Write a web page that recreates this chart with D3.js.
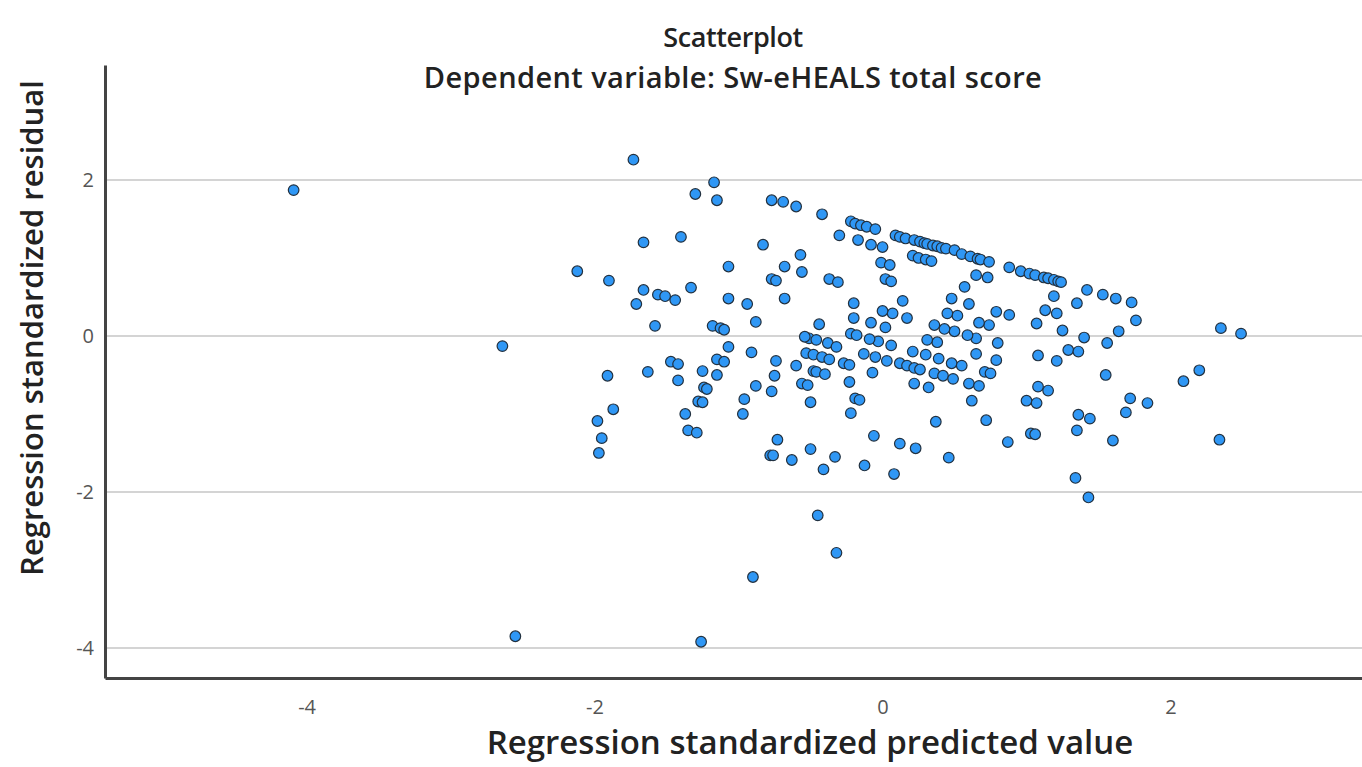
<html>
<head>
<meta charset="utf-8">
<script src="https://d3js.org/d3.v7.min.js"></script>
<style>
    body, html { margin: 0; padding: 0; background: #fff; }
    text { font-family: "Open Sans", "Noto Sans", sans-serif; }
</style>
</head>
<body>
<div id="chart"></div>
<script>
// regression standardized predicted value (x) and residual (y)
var predicted = [
  -4.09, -2.64, -2.55, -1.26, -0.90, -0.45, -0.32, 1.43, 1.34,
  -1.73, -1.17, -1.30, -1.15, -0.77, -0.69, -1.66, -1.40, -0.83, -2.12, -1.90,
  -1.66, -1.56, -1.51, -1.44, -1.71, -1.33, -1.07, -0.68, -0.77, -0.74,
  -1.07, -0.94, -0.68, -1.58, -1.18, -1.125, -1.10, -0.88, -1.07, -0.91,
  -1.47, -1.42, -1.15, -1.10, -0.74, -1.91, -1.63, -1.42, -1.25, -1.15,
  -0.75, -1.24, -1.22, -0.88, -0.77, -1.87, -1.98, -1.95, -1.97, -0.96,
  -0.97, -1.37, -1.28, -1.25, -1.35, -1.29, -0.73, -0.78, -0.76,
  -0.63, -0.50, -0.41, -0.33, -0.125, -0.06, 0.08, 0.12, 0.23, 0.37, 0.46, 0.72,
  -0.50, -0.22, -0.19, -0.16, -0.23, -0.56, -0.52, -0.60, -0.48, -0.46, -0.40,
  -0.53, -0.48, -0.42, -0.37, -0.27, -0.23, -0.13, -0.05, -0.07, 0.03, 0.12,
  0.17, 0.22, 0.26, 0.21, 0.22, 0.32, 0.30, 0.39, 0.48, 0.55, 0.36, 0.42,
  0.49, 0.60, 0.67, 0.62, 0.65, 0.71, 0.75, 0.79,
  0.87, 1.03, 1.06, 1.35, 1.36, 1.44, 1.60, 1.69, 1.72, 1.84, 2.09, 2.20, 2.34,
  1.00, 1.07, 1.08, 1.15, 1.55, 1.08, 1.21, 1.29, 1.36,
  2.35, 2.49, 1.76, 1.73, 1.62, 1.53, 1.42, 1.64, 1.56, 1.40, 1.35, 1.25,
  1.19, 1.13, 1.21, 1.07, 0.88, 0.79, 0.74, 0.67, 0.80, 0.65, 0.59, 0.52,
  0.45, 0.60, 0.48, 0.57, 0.50, 0.43, 0.36, 0.38, 0.31, 0.14, 0.17, 0.07,
  0.00, 0.02, -0.08, 0.06, -0.03, -0.09, -0.20, -0.20, -0.22, -0.18, -0.44,
  -0.51, -0.46, -0.38, -0.32, -0.54,
  -0.60, -0.42, -0.22, -0.19, -0.15, -0.11, -0.05, -0.30, -0.17, -0.08, 0.00,
  0.09, 0.12, 0.16, 0.22, 0.26, 0.29, 0.31, 0.35, 0.38, 0.41, 0.44, 0.50,
  0.55, 0.61, 0.66, 0.68, 0.74,
  0.21, 0.25, 0.30, 0.34, -0.57, -0.56, -0.37, -0.31, -0.01, 0.05, 0.02, 0.06,
  0.65, 0.73,
  0.88, 0.96, 1.02, 1.06, 1.12, 1.15, 1.19, 1.22, 1.24
];
var residual = [
  1.87, -0.13, -3.85, -3.92, -3.09, -2.30, -2.78, -2.07, -1.82,
  2.26, 1.97, 1.82, 1.74, 1.74, 1.72, 1.20, 1.27, 1.17, 0.83, 0.71,
  0.59, 0.53, 0.51, 0.46, 0.41, 0.62, 0.89, 0.89, 0.73, 0.71,
  0.48, 0.41, 0.48, 0.13, 0.13, 0.10, 0.08, 0.18, -0.14, -0.21,
  -0.33, -0.36, -0.30, -0.33, -0.32, -0.51, -0.46, -0.57, -0.45, -0.50,
  -0.51, -0.66, -0.68, -0.64, -0.71, -0.94, -1.09, -1.31, -1.50, -0.81,
  -1.00, -1.00, -0.84, -0.85, -1.21, -1.24, -1.33, -1.53, -1.53,
  -1.59, -1.45, -1.71, -1.55, -1.66, -1.28, -1.77, -1.38, -1.44, -1.10, -1.56, -1.08,
  -0.85, -0.99, -0.80, -0.82, -0.59, -0.61, -0.63, -0.38, -0.45, -0.46, -0.49,
  -0.22, -0.24, -0.27, -0.30, -0.35, -0.37, -0.23, -0.27, -0.47, -0.32, -0.35,
  -0.38, -0.41, -0.43, -0.20, -0.61, -0.66, -0.24, -0.29, -0.35, -0.38, -0.48, -0.51,
  -0.55, -0.61, -0.64, -0.83, -0.23, -0.46, -0.48, -0.31,
  -1.36, -1.25, -1.26, -1.21, -1.01, -1.06, -1.34, -0.98, -0.80, -0.86, -0.58, -0.44, -1.33,
  -0.83, -0.86, -0.65, -0.70, -0.50, -0.25, -0.32, -0.18, -0.20,
  0.10, 0.03, 0.20, 0.43, 0.48, 0.53, 0.59, 0.06, -0.09, -0.02, 0.42, 0.07,
  0.51, 0.33, 0.29, 0.16, 0.27, 0.31, 0.14, 0.17, -0.09, -0.03, 0.01, 0.26,
  0.29, 0.41, 0.48, 0.63, 0.06, 0.09, 0.14, -0.08, -0.05, 0.45, 0.23, 0.29,
  0.32, 0.11, 0.17, -0.12, -0.07, -0.04, 0.42, 0.23, 0.03, 0.01, 0.15,
  -0.03, -0.05, -0.09, -0.14, -0.01,
  1.66, 1.56, 1.47, 1.44, 1.42, 1.40, 1.37, 1.29, 1.23, 1.17, 1.14,
  1.29, 1.27, 1.25, 1.23, 1.21, 1.19, 1.18, 1.16, 1.15, 1.13, 1.12, 1.10,
  1.05, 1.02, 0.99, 0.98, 0.95,
  1.03, 1.00, 0.98, 0.96, 1.04, 0.82, 0.73, 0.69, 0.94, 0.91, 0.73, 0.70,
  0.78, 0.75,
  0.88, 0.83, 0.80, 0.78, 0.75, 0.74, 0.72, 0.70, 0.69
];
var tickValues = [-4, -2, 0, 2];

var title = "Scatterplot";
var subtitle = "Dependent variable: Sw-eHEALS total score";
var xLabel = "Regression standardized predicted value";
var yLabel = "Regression standardized residual";

var data = predicted.map(function(p, i) { return { x: p, y: residual[i] }; });

var w = 1362, h = 767;
var margin = { top: 65, right: 0, bottom: 89, left: 105 };

var svg = d3.select("#chart").append("svg")
    .attr("width", w)
    .attr("height", h);

var x = d3.scaleLinear()
    .domain([-5.4, 3.33])
    .range([margin.left, w - margin.right]);

var y = d3.scaleLinear()
    .domain([-4.385, 3.474])
    .range([h - margin.bottom, margin.top]);

// gridlines
svg.append("g")
    .selectAll("line")
    .data(tickValues)
    .enter()
    .append("line")
    .attr("x1", margin.left)
    .attr("x2", w - margin.right)
    .attr("y1", function(d) { return y(d); })
    .attr("y2", function(d) { return y(d); })
    .attr("stroke", "#d4d4d4")
    .attr("stroke-width", 2);

// plain hyphen for negatives, like the original
var fmt = function(d) { return String(d); };

// x axis
var xAxis = svg.append("g")
    .attr("transform", "translate(0," + (h - margin.bottom) + ")")
    .call(d3.axisBottom(x).tickValues(tickValues).tickSize(0).tickPadding(22).tickFormat(fmt));
xAxis.select(".domain").attr("stroke", "#444").attr("stroke-width", 3);

// y axis
var yAxis = svg.append("g")
    .attr("transform", "translate(" + margin.left + ",0)")
    .call(d3.axisLeft(y).tickValues(tickValues).tickSize(0).tickPadding(11).tickFormat(fmt));
yAxis.select(".domain").attr("stroke", "#444").attr("stroke-width", 3);

svg.selectAll(".tick text")
    .attr("fill", "#555")
    .style("font-size", "20px")
    .style("font-family", "'Open Sans', sans-serif");

// dots
svg.append("g")
    .selectAll("circle")
    .data(data)
    .enter()
    .append("circle")
    .attr("cx", function(d) { return x(d.x); })
    .attr("cy", function(d) { return y(d.y); })
    .attr("r", 5.3)
    .attr("fill", "#2f97f5")
    .attr("stroke", "#223140")
    .attr("stroke-width", 1.2);

// titles
svg.append("text")
    .attr("x", 733)
    .attr("y", 47)
    .attr("text-anchor", "middle")
    .attr("fill", "#222")
    .style("font-size", "27px")
    .style("font-weight", "600")
    .style("letter-spacing", "-0.4px")
    .text(title);

svg.append("text")
    .attr("x", 733)
    .attr("y", 88)
    .attr("text-anchor", "middle")
    .attr("fill", "#222")
    .style("font-size", "29px")
    .style("font-weight", "600")
    .style("letter-spacing", "0.4px")
    .text(subtitle);

// axis labels
svg.append("text")
    .attr("x", 810)
    .attr("y", 754)
    .attr("text-anchor", "middle")
    .attr("fill", "#222")
    .style("font-size", "33px")
    .style("font-weight", "600")
    .text(xLabel);

svg.append("text")
    .attr("transform", "translate(43,328) rotate(-90)")
    .attr("text-anchor", "middle")
    .attr("fill", "#222")
    .style("font-size", "31px")
    .style("font-weight", "600")
    .text(yLabel);
</script>
</body>
</html>
